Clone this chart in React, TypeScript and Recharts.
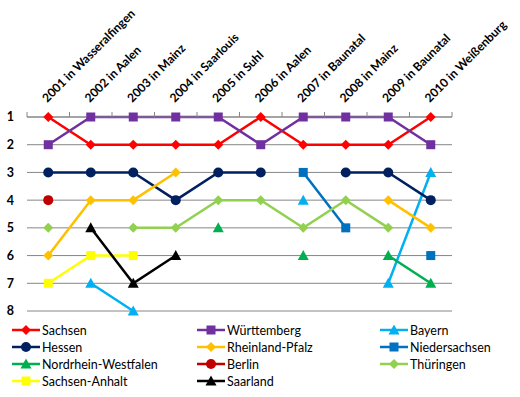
import React from 'react';
import { LineChart, Line, XAxis, YAxis, CartesianGrid } from 'recharts';

const events = [
  '2001 in Wasseralfingen',
  '2002 in Aalen',
  '2003 in Mainz',
  '2004 in Saarlouis',
  '2005 in Suhl',
  '2006 in Aalen',
  '2007 in Baunatal',
  '2008 in Mainz',
  '2009 in Baunatal',
  '2010 in Weißenburg',
];

const ranks = [1, 2, 3, 4, 5, 6, 7, 8];

const sachsen = [1, 2, 2, 2, 2, 1, 2, 2, 2, 1];
const wuerttemberg = [2, 1, 1, 1, 1, 2, 1, 1, 1, 2];
const bayern = [null, 7, 8, null, null, null, 4, null, 7, 3];
const hessen = [3, 3, 3, 4, 3, 3, null, 3, 3, 4];
const rheinlandPfalz = [6, 4, 4, 3, null, null, null, null, 4, 5];
const niedersachsen = [null, null, null, null, null, null, 3, 5, null, 6];
const nrw = [null, null, null, null, 5, null, 6, null, 6, 7];
const berlin = [4, null, null, null, null, null, null, null, null, null];
const thueringen = [5, null, 5, 5, 4, 4, 5, 4, 5, null];
const sachsenAnhalt = [7, 6, 6, null, null, null, null, null, null, null];
const saarland = [null, 5, 7, 6, null, null, null, null, null, null];

type Shape = 'diamond' | 'square' | 'triangle' | 'circle';

const series: { name: string; values: (number | null)[]; color: string; shape: Shape }[] = [
  { name: 'Sachsen', values: sachsen, color: '#FF0000', shape: 'diamond' },
  { name: 'Württemberg', values: wuerttemberg, color: '#7030A0', shape: 'square' },
  { name: 'Bayern', values: bayern, color: '#00B0F0', shape: 'triangle' },
  { name: 'Hessen', values: hessen, color: '#002060', shape: 'circle' },
  { name: 'Rheinland-Pfalz', values: rheinlandPfalz, color: '#FFC000', shape: 'diamond' },
  { name: 'Niedersachsen', values: niedersachsen, color: '#0070C0', shape: 'square' },
  { name: 'Nordrhein-Westfalen', values: nrw, color: '#00B050', shape: 'triangle' },
  { name: 'Berlin', values: berlin, color: '#C00000', shape: 'circle' },
  { name: 'Thüringen', values: thueringen, color: '#92D050', shape: 'diamond' },
  { name: 'Sachsen-Anhalt', values: sachsenAnhalt, color: '#FFFF00', shape: 'square' },
  { name: 'Saarland', values: saarland, color: '#000000', shape: 'triangle' },
];

const data = events.map((label, i) => {
  const row: Record<string, number | string | null> = { i, label };
  series.forEach((s) => {
    row[s.name] = s.values[i];
  });
  return row;
});

const xTicks: number[] = [];
for (let k = -0.5; k <= 9.5; k += 0.5) xTicks.push(k);

const FONT = 'Lato, "Open Sans", sans-serif';

function Marker({ cx, cy, shape, color }: { cx: number; cy: number; shape: Shape; color: string }) {
  if (shape === 'diamond') {
    return (
      <polygon
        points={`${cx},${cy - 5} ${cx + 5},${cy} ${cx},${cy + 5} ${cx - 5},${cy}`}
        fill={color}
      />
    );
  }
  if (shape === 'square') {
    return <rect x={cx - 4.5} y={cy - 4.5} width={9} height={9} fill={color} />;
  }
  if (shape === 'triangle') {
    return (
      <polygon
        points={`${cx},${cy - 5.5} ${cx + 5.5},${cy + 4.5} ${cx - 5.5},${cy + 4.5}`}
        fill={color}
      />
    );
  }
  return <circle cx={cx} cy={cy} r={5} fill={color} />;
}

const XTick = (props: any) => {
  const { x, y, payload } = props;
  const v = payload.value;
  if (Number.isInteger(v)) {
    const tx = x - 1;
    const ty = y - 9;
    return (
      <text
        x={tx}
        y={ty}
        transform={`rotate(-45, ${tx}, ${ty})`}
        textAnchor="start"
        fontSize={12}
        fontWeight="bold"
        fontFamily={FONT}
        fill="#000"
      >
        {events[v]}
      </text>
    );
  }
  return <line x1={x} x2={x} y1={y} y2={y + 5} stroke="#868686" strokeWidth={1} />;
};

function LegendBlock() {
  const cols = [12, 197, 380];
  const rows = [330, 347, 364, 381];
  return (
    <>
      {series.map((s, idx) => {
        const col = idx % 3;
        const row = Math.floor(idx / 3);
        return (
          <div
            key={s.name}
            style={{
              position: 'absolute',
              left: cols[col],
              top: rows[row] - 8,
              height: 16,
              display: 'flex',
              alignItems: 'center',
              fontFamily: FONT,
              fontSize: 12.5,
              color: '#000',
              whiteSpace: 'nowrap',
            }}
          >
            <svg width={28} height={12} style={{ marginRight: 2 }}>
              <line x1={0} x2={28} y1={6} y2={6} stroke={s.color} strokeWidth={2.5} />
              <Marker cx={14} cy={6} shape={s.shape} color={s.color} />
            </svg>
            <span>{s.name}</span>
          </div>
        );
      })}
    </>
  );
}

export default function App() {
  return (
    <div style={{ position: 'relative', width: 520, height: 397, background: '#fff' }}>
      <style>{'body{margin:0}'}</style>
      <LineChart
        width={520}
        height={397}
        data={data}
        margin={{ top: 7, right: 68, bottom: 86, left: 0 }}
      >
        <CartesianGrid vertical={false} stroke="#868686" />
        <XAxis
          type="number"
          dataKey="i"
          domain={[-0.5, 9.5]}
          ticks={xTicks}
          interval={0}
          orientation="top"
          height={110}
          tickSize={5}
          tickMargin={0}
          tickLine={false}
          axisLine={{ stroke: '#868686' }}
          tick={XTick}
        />
        <YAxis
          type="number"
          domain={[1, 8]}
          reversed
          ticks={ranks}
          interval={0}
          width={27}
          axisLine={false}
          tickLine={false}
          tickSize={0}
          tickMargin={13}
          tick={{ fill: '#000', fontSize: 12.5, fontWeight: 'bold', fontFamily: FONT }}
        />
        {series.map((s) => (
          <Line
            key={s.name}
            type="linear"
            dataKey={s.name}
            stroke={s.color}
            strokeWidth={2.5}
            connectNulls={false}
            isAnimationActive={false}
            activeDot={false}
            dot={(p: any) => {
              if (p.cx == null || p.cy == null || p.value == null) return <g key={p.key ?? p.index} />;
              return (
                <g key={p.key ?? p.index}>
                  <Marker cx={p.cx} cy={p.cy} shape={s.shape} color={s.color} />
                </g>
              );
            }}
          />
        ))}
      </LineChart>
      <LegendBlock />
    </div>
  );
}
